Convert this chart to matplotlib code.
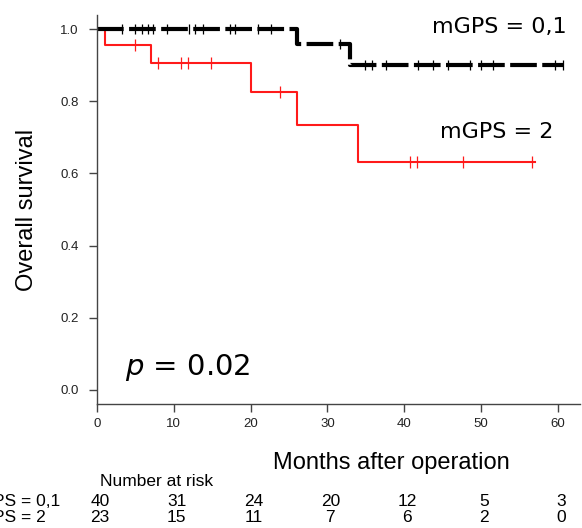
import matplotlib
matplotlib.use("Agg")
import matplotlib.pyplot as plt
import numpy as np

# Kaplan-Meier steps (months, survival)
grp01_times = [0, 26, 33, 60.7]
grp01_surv = [1.0, 0.958, 0.90, 0.90]
grp01_censor = [3.2, 5.0, 5.8, 6.7, 7.3, 9.1, 12.0, 12.8, 13.8, 17.3, 18.0,
                21.0, 22.7, 31.6, 34.9, 35.8, 37.7, 41.8, 43.8, 45.7, 48.6,
                50.0, 51.6, 59.6, 60.7]

grp2_times = [0, 1, 7, 20, 26, 34, 57]
grp2_surv = [1.0, 0.957, 0.907, 0.826, 0.735, 0.631, 0.631]
grp2_censor = [5.0, 8.0, 10.9, 11.9, 14.9, 23.8, 40.8, 41.7, 47.6, 56.7]

risk_months = [0, 10, 20, 30, 40, 50, 60]
risk_grp01 = [40, 31, 24, 20, 12, 5, 3]
risk_grp2 = [23, 15, 11, 7, 6, 2, 0]
risk_labels = ["mGPS = 0,1", "mGPS = 2"]


def surv_at(times, surv, t):
    idx = np.searchsorted(times, t, side="right") - 1
    return np.array(surv)[idx]


plt.rcParams.update({'font.family': ['Liberation Sans', 'DejaVu Sans']})
fig = plt.figure(figsize=(5.82, 5.28), dpi=100)
ax = fig.add_axes([97 / 582, 1 - 404 / 528, (580 - 97) / 582, (404 - 15) / 528])

ax.step(grp2_times, grp2_surv, where="post", color="#ff1a1a", lw=1.5)
ax.plot(grp2_censor, surv_at(grp2_times, grp2_surv, grp2_censor), ls="none",
        marker="|", ms=8, mew=0.9, color="#ff1a1a")

ax.step(grp01_times, grp01_surv, where="post", color="black", lw=3,
        ls=(0, (6.4, 1.3)))
ax.plot(grp01_censor, surv_at(grp01_times, grp01_surv, grp01_censor), ls="none",
        marker="|", ms=7, mew=0.9, color="black")

ax.set_xlim(0, 62.9)
ax.set_ylim(-0.039, 1.039)
ax.set_xticks(risk_months)
ax.set_yticks([0.0, 0.2, 0.4, 0.6, 0.8, 1.0])
ax.set_yticklabels(["0.0", "0.2", "0.4", "0.6", "0.8", "1.0"])
for s in ["top", "right"]:
    ax.spines[s].set_visible(False)
for s in ["left", "bottom"]:
    ax.spines[s].set_color("#444444")
    ax.spines[s].set_linewidth(1.0)
ax.tick_params(axis="both", colors="#444444", labelcolor="#222222", labelsize=9.5,
               length=6, width=1.0)
ax.tick_params(axis="y", pad=7)
ax.tick_params(axis="x", pad=4)

ax.set_ylabel("Overall survival", fontsize=17, labelpad=16)

ax.text(43.6, 1.005, "mGPS = 0,1", family="DejaVu Sans", fontsize=16,
        va="center", ha="left")
ax.text(44.7, 0.715, "mGPS = 2", family="DejaVu Sans", fontsize=16,
        va="center", ha="left")
ax.text(3.6, 0.061, "$p$ = 0.02", family="DejaVu Sans", fontsize=21,
        va="center", ha="left")

fig.text(391 / 582, 1 - 463 / 528, "Months after operation", fontsize=17,
         ha="center", va="center")
fig.text(100 / 582, 1 - 481 / 528, "Number at risk", fontsize=12.5,
         ha="left", va="center")

row_y = [502, 518]
for lab, row, y in zip(risk_labels, [risk_grp01, risk_grp2], row_y):
    fig.text(-35 / 582, 1 - y / 528, lab, fontsize=12.5, ha="left", va="center")
    for m, n in zip(risk_months, row):
        xpix = 97 + m * 7.68 + 3
        fig.text(xpix / 582, 1 - y / 528, str(n), fontsize=12.5,
                 ha="center", va="center")

fig.savefig("out.png", dpi=100)
